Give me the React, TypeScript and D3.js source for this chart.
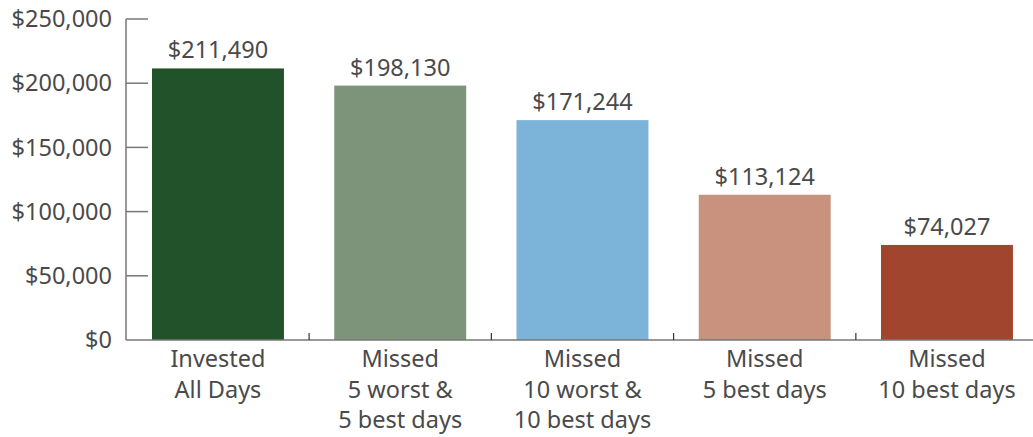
import { useRef, useEffect } from 'react';
import * as d3 from 'd3';

const categories = [
  ['Invested', 'All Days'],
  ['Missed', '5 worst &', '5 best days'],
  ['Missed', '10 worst &', '10 best days'],
  ['Missed', '5 best days'],
  ['Missed', '10 best days'],
];
const values = [211490, 198130, 171244, 113124, 74027];
const colors = ['#21522a', '#7e947a', '#7bb3d9', '#c9927e', '#a2452e'];
const yTicks = [0, 50000, 100000, 150000, 200000, 250000];

const W = 1033;
const H = 437;

export default function App() {
  const svgRef = useRef<SVGSVGElement>(null);

  useEffect(() => {
    if (!svgRef.current) return;
    const svg = d3.select(svgRef.current);
    svg.selectAll('*').remove();

    const font = "'Noto Sans', sans-serif";
    const fontSize = 23.5;
    const textColor = '#4a4a4a';
    const axisX = 126;
    const keys = categories.map((_, i) => String(i));

    const y = d3.scaleLinear().domain([0, 250000]).range([340, 19]);
    const step = 182.25;
    const pi = 0.276;
    const po = 26 / step;
    const x = d3
      .scaleBand<string>()
      .domain(keys)
      .range([axisX, axisX + step * (keys.length - pi + 2 * po)])
      .paddingInner(pi)
      .paddingOuter(po);

    const fmt = d3.format('$,');

    // Bars
    svg
      .append('g')
      .selectAll('rect')
      .data(values)
      .join('rect')
      .attr('x', (_, i) => x(keys[i])!)
      .attr('y', (d) => y(d))
      .attr('width', x.bandwidth())
      .attr('height', (d) => y(0) - y(d))
      .attr('fill', (_, i) => colors[i]);

    // Value labels
    svg
      .append('g')
      .selectAll('text')
      .data(values)
      .join('text')
      .attr('x', (_, i) => x(keys[i])! + x.bandwidth() / 2)
      .attr('y', (d) => y(d) - 10)
      .attr('text-anchor', 'middle')
      .attr('font-family', font)
      .attr('font-size', fontSize)
      .attr('fill', textColor)
      .text((d) => fmt(d));

    // Y axis line + inward ticks
    svg
      .append('line')
      .attr('x1', axisX)
      .attr('x2', axisX)
      .attr('y1', y(250000))
      .attr('y2', y(0))
      .attr('stroke', '#777')
      .attr('stroke-width', 1.5);

    const yg = svg.append('g');
    yg.selectAll('line')
      .data(yTicks.filter((t) => t > 0))
      .join('line')
      .attr('x1', axisX)
      .attr('x2', axisX + 22)
      .attr('y1', (d) => y(d))
      .attr('y2', (d) => y(d))
      .attr('stroke', '#777')
      .attr('stroke-width', 1.5);

    yg.selectAll('text')
      .data(yTicks)
      .join('text')
      .attr('x', 112)
      .attr('y', (d) => y(d))
      .attr('dy', '0.35em')
      .attr('text-anchor', 'end')
      .attr('font-family', font)
      .attr('font-size', fontSize)
      .attr('fill', textColor)
      .text((d) => fmt(d));

    // X baseline
    svg
      .append('line')
      .attr('x1', axisX)
      .attr('x2', W)
      .attr('y1', y(0))
      .attr('y2', y(0))
      .attr('stroke', '#777')
      .attr('stroke-width', 1.5);

    // small separator ticks between categories
    svg
      .append('g')
      .selectAll('line')
      .data(keys.slice(1))
      .join('line')
      .attr('x1', (k) => x(k)! - (step - x.bandwidth()) / 2)
      .attr('x2', (k) => x(k)! - (step - x.bandwidth()) / 2)
      .attr('y1', y(0))
      .attr('y2', y(0) - 7)
      .attr('stroke', '#333')
      .attr('stroke-width', 1.2);

    // Category labels
    const cg = svg
      .append('g')
      .selectAll('text')
      .data(categories)
      .join('text')
      .attr('x', (_, i) => x(keys[i])! + x.bandwidth() / 2)
      .attr('y', 367)
      .attr('text-anchor', 'middle')
      .attr('font-family', font)
      .attr('font-size', fontSize)
      .attr('fill', textColor);
    cg.selectAll('tspan')
      .data((d) => d)
      .join('tspan')
      .attr('x', function () {
        return (this.parentNode as SVGTextElement).getAttribute('x');
      })
      .attr('dy', (_, j) => (j === 0 ? 0 : 30.5))
      .text((d) => d);
  }, []);

  return (
    <svg
      ref={svgRef}
      width={W}
      height={H}
      style={{ position: 'absolute', left: 0, top: 0, background: '#fff' }}
    />
  );
}
